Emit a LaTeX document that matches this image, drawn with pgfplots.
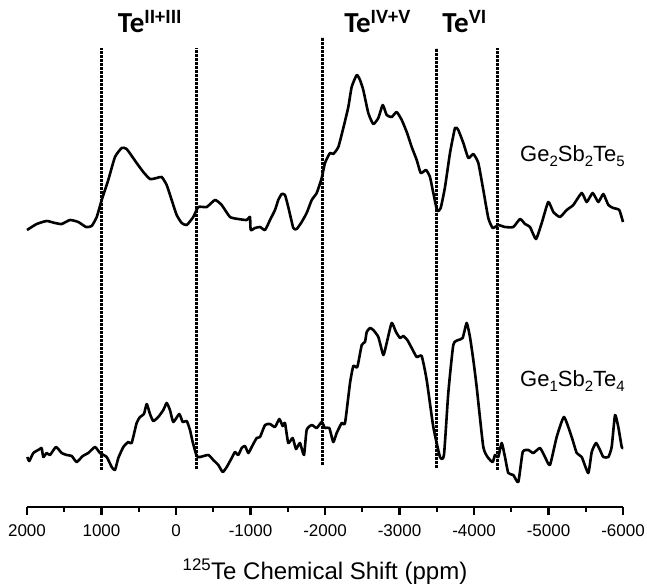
\documentclass[border=0pt]{standalone}
\usepackage{fontspec}
\setmainfont{Liberation Sans}
\newfontfamily\carlito{Carlito}
\usepackage{pgfplots}
\pgfplotsset{compat=1.18}
\usepackage{pgfplotstable}

% 125Te NMR spectra, shift (ppm) vs intensity (arb.)
\pgfplotstableread{
x y
2000 277
1870 283
1736 286
1624 284
1534 283
1423 287
1311 285
1208 280
1132 281
1064 290
997 307
909 327
819 350
729 359
662 358
528 344
439 335
349 328
259 329
192 330
125 322
58 307
-9 292
-77 284
-144 282
-232 290
-299 300
-412 300
-524 307
-613 302
-725 290
-836 288
-949 287
-993 290
-1003 277
-1060 279
-1128 280
-1195 277
-1262 287
-1329 297
-1373 307
-1419 313
-1463 312
-1507 300
-1575 279
-1620 278
-1687 285
-1754 294
-1822 307
-1889 314
-1956 329
-2000 344
-2067 354
-2111 353
-2179 360
-2246 379
-2313 400
-2358 420
-2426 432
-2470 427
-2514 417
-2581 394
-2648 383
-2716 389
-2775 402
-2828 392
-2895 390
-2962 395
-3030 387
-3097 375
-3164 360
-3231 347
-3285 334
-3356 337
-3409 330
-3454 314
-3507 296
-3553 299
-3611 320
-3678 354
-3745 379
-3789 377
-3857 364
-3924 349
-3991 353
-4058 344
-4125 317
-4192 289
-4251 279
-4326 282
-4416 280
-4528 280
-4618 288
-4685 283
-4752 280
-4832 268
-4909 284
-4997 305
-5065 295
-5154 290
-5244 297
-5333 302
-5446 314
-5513 305
-5593 314
-5669 305
-5736 313
-5803 302
-5870 299
-5950 297
-6000 285
}\gsst

\pgfplotstableread{
x y
1996 50
1969 46
1915 54
1826 58
1803 59
1781 50
1736 54
1691 52
1611 60
1534 54
1467 52
1400 51
1333 45
1252 51
1177 54
1087 60
1020 54
930 50
863 40
819 37
774 49
707 60
640 65
595 64
528 84
483 90
430 93
393 103
349 93
305 86
238 90
170 97
125 104
81 97
36 85
-44 93
-90 85
-144 86
-188 77
-224 65
-278 51
-322 50
-434 52
-501 47
-568 42
-627 35
-681 40
-748 49
-792 55
-836 52
-882 59
-926 61
-971 54
-1016 60
-1083 69
-1128 70
-1195 82
-1262 83
-1329 80
-1387 88
-1432 81
-1463 84
-1507 64
-1566 69
-1611 58
-1664 64
-1718 52
-1754 77
-1822 82
-1889 79
-1956 85
-2000 79
-2058 79
-2111 65
-2157 74
-2224 84
-2269 84
-2336 124
-2380 141
-2434 140
-2493 162
-2537 165
-2560 175
-2604 179
-2648 177
-2716 170
-2783 152
-2828 164
-2895 184
-2953 175
-3007 169
-3051 171
-3105 167
-3164 159
-3231 150
-3298 151
-3365 127
-3454 80
-3544 50
-3597 52
-3655 114
-3722 162
-3789 167
-3848 169
-3902 184
-3946 170
-3991 147
-4036 120
-4125 60
-4192 49
-4251 45
-4282 52
-4326 50
-4372 64
-4416 50
-4460 34
-4528 32
-4595 25
-4654 55
-4729 57
-4796 54
-4886 59
-4953 50
-5020 42
-5110 70
-5208 90
-5311 70
-5379 54
-5446 50
-5534 34
-5580 55
-5638 64
-5691 57
-5736 50
-5803 50
-5848 60
-5893 92
-5937 80
-5983 60
-6000 59
}\gst

\newcommand{\sub}[1]{\raisebox{-0.45ex}{\fontsize{15}{15}\selectfont #1}}

\begin{document}
\begin{tikzpicture}
\path[use as bounding box] (-27pt,-80pt) rectangle (620pt,507pt);
\begin{axis}[
    scale only axis,
    width=596pt, height=507pt,
    x dir=reverse,
    xmin=-6000, xmax=2000,
    ymin=0, ymax=507,
    axis x line=bottom,
    axis y line=none,
    axis line style={-, line width=2.2pt},
    xtick={2000,1000,0,-1000,-2000,-3000,-4000,-5000,-6000},
    xticklabels={2000,1000,0,-1000,-2000,-3000,-4000,-5000,-6000},
    minor x tick num=1,
    tick align=outside,
    major tick length=8pt,
    minor tick length=4.5pt,
    tick style={line width=2.2pt, black},
    xticklabel style={font=\fontsize{17}{17}\selectfont, yshift=-6pt},
    xlabel={\textsuperscript{125}Te Chemical Shift (ppm)},
    xlabel style={font=\fontsize{24}{24}\selectfont, yshift=-15pt},
    clip=false,
]
\addplot[black, line width=2.6pt, line join=round, smooth, tension=0.3] table {\gsst};
\addplot[black, line width=2.6pt, line join=round, smooth, tension=0.3] table {\gst};

\addplot[black, line width=3pt, dash pattern=on 2.6pt off 1.4pt] coordinates {(1000,37) (1000,459)};
\addplot[black, line width=3pt, dash pattern=on 2.6pt off 1.4pt] coordinates {(-280,38) (-280,459)};
\addplot[black, line width=3pt, dash pattern=on 2.6pt off 1.4pt] coordinates {(-1970,42) (-1970,470)};
\addplot[black, line width=3pt, dash pattern=on 2.6pt off 1.4pt] coordinates {(-3500,39) (-3500,459)};
\addplot[black, line width=3pt, dash pattern=on 2.6pt off 1.4pt] coordinates {(-4320,37) (-4320,459)};

\node[anchor=base, font=\carlito\bfseries\fontsize{29}{29}\selectfont, inner sep=0pt] at (axis cs:349,474) {Te\textsuperscript{II+III}};
\node[anchor=base, font=\carlito\bfseries\fontsize{29}{29}\selectfont, inner sep=0pt] at (axis cs:-2705,474) {Te\textsuperscript{IV+V}};
\node[anchor=base, font=\carlito\bfseries\fontsize{29}{29}\selectfont, inner sep=0pt] at (axis cs:-3873,474) {Te\textsuperscript{VI}};

\node[anchor=base, font=\fontsize{22}{22}\selectfont, inner sep=0pt] at (axis cs:-5322,346) {Ge\sub{2}Sb\sub{2}Te\sub{5}};
\node[anchor=base, font=\fontsize{22}{22}\selectfont, inner sep=0pt] at (axis cs:-5322,121) {Ge\sub{1}Sb\sub{2}Te\sub{4}};
\end{axis}
\end{tikzpicture}
\end{document}
